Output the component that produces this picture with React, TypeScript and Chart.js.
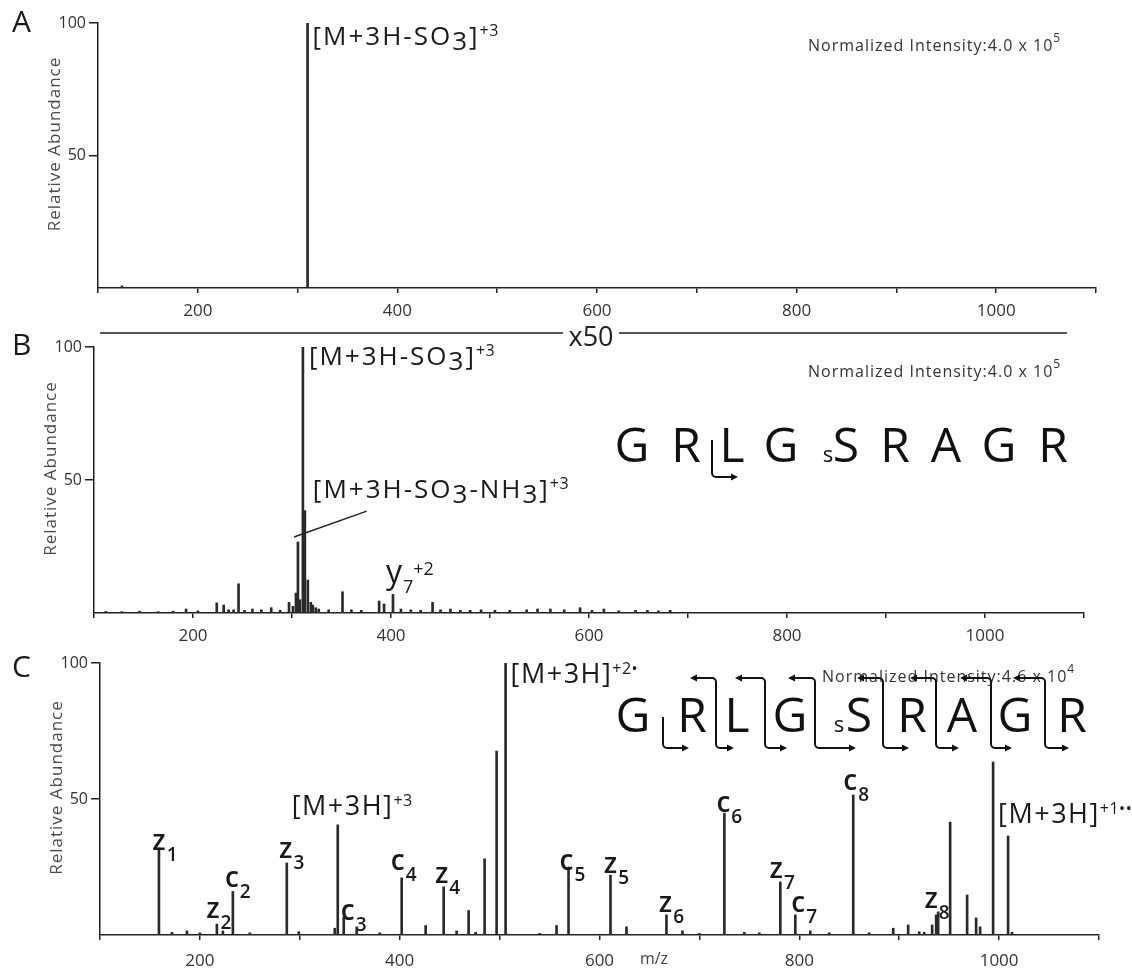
import React, { useEffect, useRef } from 'react';
import { Chart, registerables } from 'chart.js';

Chart.register(...registerables);

const FONT = '"Open Sans", "Noto Sans", sans-serif';
const INK = '#222';

// ---------- axes ----------
const X_MIN = 100;
const X_MAX = 1100;
const X_STEP = 100;
const X_LABELED = [200, 400, 600, 800, 1000];
const Y_TICKS = [50, 100];

// ---------- spectra: [m/z, relative abundance] ----------
const A_PEAKS: [number, number][] = [
  [124, 0.8], [310, 100],
];

const B_PEAKS: [number, number][] = [
  [112, 0.6], [128, 0.5], [146, 0.7], [165, 0.5], [180, 0.7], [193, 1.5], [205, 0.8],
  [224, 3.8], [231, 3], [236, 1.2], [241, 1.2], [246, 11], [252, 1], [260, 1.5],
  [269, 1.2], [279, 2], [288, 1], [297, 4], [301, 2.5], [304, 7.5], [306, 26.7],
  [308, 5], [311, 100], [313, 38.5], [316, 12.4], [319, 4], [321, 3], [324, 2],
  [327, 1.5], [337, 1.2], [351, 8], [360, 1.2], [370, 1], [388, 4.5], [393, 3.4],
  [402, 7], [410, 1.5], [420, 1.2], [430, 1], [442, 4], [450, 1.2], [460, 1.5],
  [470, 1], [480, 1], [491, 1.2], [505, 1], [520, 1], [537, 1.2], [548, 1.5],
  [561, 1.5], [575, 1.2], [591, 2], [603, 1], [615, 1.5], [630, 0.8], [647, 1],
  [659, 1], [670, 0.8], [682, 1],
];

const C_PEAKS: [number, number][] = [
  [159, 32], [172, 1], [187, 1.5], [200, 0.8], [217, 4], [223, 1.5], [233, 16],
  [250, 0.8], [287, 26.5], [299, 1.2], [335, 2.5], [338, 40.5], [344, 6.6], [357, 3],
  [380, 0.8], [402, 21], [426, 3.5], [444, 17.7], [457, 1.5], [469, 9], [476, 1],
  [485, 28], [497, 67.6], [506, 100], [540, 0.6], [557, 3.5], [569, 25], [611, 22],
  [627, 3], [667, 7.4], [683, 1.5], [700, 0.6], [725, 44.8], [745, 1], [760, 0.8],
  [781, 19.5], [796, 7.4], [811, 1.5], [830, 0.8], [854, 51.5], [870, 0.8], [894, 2.5],
  [909, 3.7], [920, 1.2], [925, 1], [933, 3.7], [937, 7.4], [939, 8.5], [951, 41.5],
  [968, 14.7], [977, 6.3], [981, 3], [994, 63.6], [1009, 36.4], [1013, 1],
];

// ---------- text ----------
const SEQ = ['G', 'R', 'L', 'G', 'S', 'R', 'A', 'G', 'R'];
const Y_TITLE = 'Relative Abundance';
const NORM_AB = 'Normalized Intensity:4.0 x 10';
const NORM_AB_EXP = '5';
const NORM_C = 'Normalized Intensity:4.6 x 10';
const NORM_C_EXP = '4';

type Seg = { t: string; k: string };
type Sty = { size: number; dy: number; w?: number; gap?: number; ls?: number };
const STY: Record<string, Sty> = {
  ion: { size: 28, dy: 0, w: 600, gap: 1 },
  sub: { size: 19, dy: 11, w: 600 },
  mh: { size: 27, dy: 0, ls: 1.5 },
  so: { size: 26, dy: 0, ls: 2 },
  low: { size: 26, dy: 5, ls: 2 },
  sup: { size: 16, dy: -9, ls: 0.5 },
  y: { size: 32, dy: 0, gap: 1 },
  ysub: { size: 18, dy: 10 },
  ysup: { size: 18, dy: -8 },
  norm: { size: 16, dy: 0, ls: 1 },
  normsup: { size: 12, dy: -9 },
};

const ion = (l: string, n: string): Seg[] => [{ t: l, k: 'ion' }, { t: n, k: 'sub' }];
const mh = (sup: string): Seg[] => [{ t: '[M+3H]', k: 'mh' }, { t: sup, k: 'sup' }];
const SO3: Seg[] = [{ t: '[M+3H-SO', k: 'so' }, { t: '3', k: 'low' }, { t: ']', k: 'so' }, { t: '+3', k: 'sup' }];
const SO3NH3: Seg[] = [
  { t: '[M+3H-SO', k: 'so' }, { t: '3', k: 'low' }, { t: '-NH', k: 'so' }, { t: '3', k: 'low' },
  { t: ']', k: 'so' }, { t: '+3', k: 'sup' },
];
const Y7: Seg[] = [{ t: 'y', k: 'y' }, { t: '7', k: 'ysub' }, { t: '+2', k: 'ysup' }];

type Label = { mz: number; segs: Seg[]; dx: number; dy: number; align: 'l' | 'cf' };

const A_LABELS: Label[] = [{ mz: 310, segs: SO3, dx: 5, dy: 22, align: 'l' }];
const B_LABELS: Label[] = [
  { mz: 311, segs: SO3, dx: 6, dy: 18, align: 'l' },
  { mz: 313, segs: SO3NH3, dx: 8, dy: -13, align: 'l' },
  { mz: 402, segs: Y7, dx: 1, dy: -11, align: 'cf' },
];
const C_LABELS: Label[] = [
  { mz: 159, segs: ion('z', '1'), dx: 0, dy: 2, align: 'cf' },
  { mz: 217, segs: ion('z', '2'), dx: -4, dy: -6, align: 'cf' },
  { mz: 233, segs: ion('c', '2'), dx: -1, dy: -4, align: 'cf' },
  { mz: 287, segs: ion('z', '3'), dx: -1, dy: -5, align: 'cf' },
  { mz: 338, segs: mh('+3'), dx: 4, dy: -10, align: 'cf' },
  { mz: 344, segs: ion('c', '3'), dx: 4, dy: 3, align: 'cf' },
  { mz: 402, segs: ion('c', '4'), dx: -4, dy: -8, align: 'cf' },
  { mz: 444, segs: ion('z', '4'), dx: -2, dy: -4, align: 'cf' },
  { mz: 506, segs: mh('+2\u2022'), dx: 5, dy: 20, align: 'l' },
  { mz: 569, segs: ion('c', '5'), dx: -2, dy: 3, align: 'cf' },
  { mz: 611, segs: ion('z', '5'), dx: 0, dy: -2, align: 'cf' },
  { mz: 667, segs: ion('z', '6'), dx: -1, dy: -3, align: 'cf' },
  { mz: 725, segs: ion('c', '6'), dx: -1, dy: -1, align: 'cf' },
  { mz: 781, segs: ion('z', '7'), dx: -4, dy: -4, align: 'cf' },
  { mz: 796, segs: ion('c', '7'), dx: 3, dy: -3, align: 'cf' },
  { mz: 854, segs: ion('c', '8'), dx: -3, dy: -5, align: 'cf' },
  { mz: 939, segs: ion('z', '8'), dx: -7, dy: -4, align: 'cf' },
  { mz: 1009, segs: mh('+1\u2022\u2022'), dx: -10, dy: -13, align: 'l' },
];

// leader line for the NH3-loss label (data coordinates)
const B_LEADER: [number, number][] = [[302, 28.6], [375.5, 38.3]];

// ---------- layout (page pixels) ----------
const B_SEQ_X = [632, 686, 732, 781, 846, 895, 946, 999, 1053];
const C_SEQ_X = [633, 692, 737, 790, 859, 912, 962, 1015, 1072];
const C_GAP_X = [663, 716, 765, 815, 883, 936, 991, 1045];

type PanelSpec = {
  key: string;
  top: number;
  height: number;
  area: { left: number; right: number; top: number; bottom: number };
  xAxisH: number;
  xTickPad: number;
  peaks: [number, number][];
  labels: Label[];
  letterY: number;
  norm: { text: string; exp: string; x: number; y: number };
  extra?: (ctx: CanvasRenderingContext2D, chart: any) => void;
};

function setFont(ctx: CanvasRenderingContext2D, size: number, w = 400) {
  ctx.font = `${w} ${size}px ${FONT}`;
}

function spacedWidth(ctx: CanvasRenderingContext2D, t: string, ls: number) {
  if (!ls) return ctx.measureText(t).width;
  let w = 0;
  for (const ch of t) w += ctx.measureText(ch).width + ls;
  return w - ls;
}

function fillSpaced(ctx: CanvasRenderingContext2D, t: string, x: number, y: number, ls: number) {
  if (!ls) {
    ctx.fillText(t, x, y);
    return;
  }
  let cx = x;
  for (const ch of t) {
    ctx.fillText(ch, cx, y);
    cx += ctx.measureText(ch).width + ls;
  }
}

function drawRich(ctx: CanvasRenderingContext2D, x: number, y: number, segs: Seg[], align: 'l' | 'cf') {
  const parts = segs.map((s) => {
    const st = STY[s.k];
    setFont(ctx, st.size, st.w || 400);
    return { s, st, w: spacedWidth(ctx, s.t, st.ls || 0) };
  });
  let cx = align === 'cf' ? x - parts[0].w / 2 : x;
  ctx.textAlign = 'left';
  ctx.textBaseline = 'alphabetic';
  for (const p of parts) {
    setFont(ctx, p.st.size, p.st.w || 400);
    fillSpaced(ctx, p.s.t, cx, y + p.st.dy, p.st.ls || 0);
    cx += p.w + (p.st.gap || 0) + (p.st.ls || 0);
  }
}

function head(ctx: CanvasRenderingContext2D, x: number, y: number, dir: number) {
  ctx.beginPath();
  ctx.moveTo(x, y);
  ctx.lineTo(x - dir * 7, y - 3.5);
  ctx.lineTo(x - dir * 7, y + 3.5);
  ctx.closePath();
  ctx.fill();
}

function drawSequence(ctx: CanvasRenderingContext2D, xs: number[], baseline: number, sX: number) {
  ctx.fillStyle = '#111';
  ctx.textAlign = 'center';
  ctx.textBaseline = 'alphabetic';
  setFont(ctx, 48);
  SEQ.forEach((l, i) => ctx.fillText(l, xs[i], baseline));
  setFont(ctx, 22);
  ctx.fillText('s', sX, baseline);
}

function drawB(ctx: CanvasRenderingContext2D, chart: any) {
  const top = 320;
  const xs = chart.scales.x;
  const ys = chart.scales.y;
  // leader line
  ctx.strokeStyle = INK;
  ctx.lineWidth = 1.5;
  ctx.beginPath();
  ctx.moveTo(xs.getPixelForValue(B_LEADER[0][0]), ys.getPixelForValue(B_LEADER[0][1]));
  ctx.lineTo(xs.getPixelForValue(B_LEADER[1][0]), ys.getPixelForValue(B_LEADER[1][1]));
  ctx.stroke();

  ctx.save();
  ctx.translate(0, -top);
  // x50 bar
  ctx.beginPath();
  ctx.moveTo(100, 333);
  ctx.lineTo(563, 333);
  ctx.moveTo(619, 333);
  ctx.lineTo(1067, 333);
  ctx.stroke();
  ctx.fillStyle = INK;
  setFont(ctx, 27);
  ctx.textAlign = 'center';
  ctx.fillText('x50', 591, 346);
  // sequence
  drawSequence(ctx, B_SEQ_X, 462, 828);
  ctx.strokeStyle = '#111';
  ctx.fillStyle = '#111';
  ctx.lineWidth = 2;
  ctx.beginPath();
  ctx.moveTo(712, 440);
  ctx.arcTo(712, 477, 737, 477, 4);
  ctx.lineTo(732, 477);
  ctx.stroke();
  head(ctx, 738, 477, 1);
  ctx.restore();
}

function drawC(ctx: CanvasRenderingContext2D) {
  const top = 630;
  ctx.save();
  ctx.translate(0, -top);
  drawSequence(ctx, C_SEQ_X, 732, 839);
  ctx.strokeStyle = '#111';
  ctx.fillStyle = '#111';
  ctx.lineWidth = 2;
  const yT = 678;
  const yB = 748;
  C_GAP_X.forEach((g, i) => {
    const topTip = C_SEQ_X[i] - 2;
    const botTip = C_SEQ_X[i + 1] - 3;
    ctx.beginPath();
    if (i > 0) {
      ctx.moveTo(topTip + 5, yT);
      ctx.arcTo(g, yT, g, yB, 4);
    } else {
      ctx.moveTo(g, 717);
    }
    ctx.arcTo(g, yB, botTip, yB, 4);
    ctx.lineTo(botTip - 5, yB);
    ctx.stroke();
    head(ctx, botTip, yB, 1);
    if (i > 0) head(ctx, topTip, yT, -1);
  });
  // m/z
  ctx.fillStyle = '#444';
  setFont(ctx, 16);
  ctx.textAlign = 'center';
  ctx.fillText('m/z', 654, 964);
  ctx.restore();
}

const PANELS: PanelSpec[] = [
  {
    key: 'A', top: 0, height: 330,
    area: { left: 98, right: 1096, top: 23, bottom: 288 },
    xAxisH: 30, xTickPad: 8,
    peaks: A_PEAKS, labels: A_LABELS, letterY: 32,
    norm: { text: NORM_AB, exp: NORM_AB_EXP, x: 808, y: 51 },
  },
  {
    key: 'B', top: 320, height: 330,
    area: { left: 94, right: 1084, top: 347, bottom: 613 },
    xAxisH: 30, xTickPad: 8,
    peaks: B_PEAKS, labels: B_LABELS, letterY: 355,
    norm: { text: NORM_AB, exp: NORM_AB_EXP, x: 808, y: 377 },
    extra: drawB,
  },
  {
    key: 'C', top: 630, height: 339,
    area: { left: 100, right: 1099, top: 663, bottom: 935 },
    xAxisH: 32, xTickPad: 11,
    peaks: C_PEAKS, labels: C_LABELS, letterY: 677,
    norm: { text: NORM_C, exp: NORM_C_EXP, x: 822, y: 682 },
    extra: (ctx) => drawC(ctx),
  },
];

function decor(p: PanelSpec) {
  return {
    id: 'decor' + p.key,
    afterDatasetsDraw(chart: any) {
      const ctx: CanvasRenderingContext2D = chart.ctx;
      const xs = chart.scales.x;
      const ys = chart.scales.y;
      ctx.save();
      // peak labels
      ctx.fillStyle = '#1a1a1a';
      for (const L of p.labels) {
        const pk = p.peaks.find((q) => q[0] === L.mz);
        if (!pk) continue;
        const x = xs.getPixelForValue(pk[0]) + L.dx;
        const y = ys.getPixelForValue(pk[1]) + L.dy;
        drawRich(ctx, x, y, L.segs, L.align);
      }
      ctx.restore();

      ctx.save();
      ctx.translate(0, -p.top);
      // panel letter
      ctx.fillStyle = '#1a1a1a';
      setFont(ctx, 30);
      ctx.textAlign = 'left';
      ctx.textBaseline = 'alphabetic';
      ctx.fillText(p.key, 12, p.letterY);
      // y title
      ctx.save();
      ctx.translate(p.area.left - 43, (p.area.top + p.area.bottom) / 2 - 11);
      ctx.rotate(-Math.PI / 2);
      ctx.fillStyle = '#4a4a4a';
      setFont(ctx, 17);
      ctx.textAlign = 'left';
      ctx.textBaseline = 'middle';
      const tw = spacedWidth(ctx, Y_TITLE, 1);
      fillSpaced(ctx, Y_TITLE, -tw / 2, 0, 1);
      ctx.restore();
      // normalized intensity
      ctx.fillStyle = '#333';
      drawRich(ctx, p.norm.x, p.norm.y, [{ t: p.norm.text, k: 'norm' }, { t: p.norm.exp, k: 'normsup' }], 'l');
      ctx.restore();

      if (p.extra) {
        ctx.save();
        p.extra(ctx, chart);
        ctx.restore();
      }
    },
  };
}

function buildConfig(p: PanelSpec): any {
  const W = 1132;
  return {
    type: 'bar',
    data: {
      datasets: [
        {
          data: p.peaks.map(([x, y]) => ({ x, y })),
          backgroundColor: '#2a2a2a',
          borderWidth: 0,
          barThickness: 2,
        },
      ],
    },
    options: {
      animation: false,
      responsive: false,
      devicePixelRatio: 1,
      events: [],
      layout: {
        padding: {
          left: 0,
          right: W - p.area.right,
          top: p.area.top - p.top,
          bottom: p.top + p.height - p.area.bottom - p.xAxisH,
        },
      },
      plugins: { legend: { display: false }, tooltip: { enabled: false }, title: { display: false } },
      scales: {
        x: {
          type: 'linear',
          min: X_MIN,
          max: X_MAX,
          offset: false,
          afterFit: (s: any) => { s.height = p.xAxisH; },
          ticks: {
            stepSize: X_STEP,
            autoSkip: false,
            maxRotation: 0,
            padding: p.xTickPad,
            color: '#333',
            font: { family: FONT, size: 17 },
            callback: (v: number) => (X_LABELED.includes(v) ? String(v) : ''),
          },
          grid: { display: true, drawOnChartArea: false, drawTicks: true, tickLength: 5, color: INK, lineWidth: 1.5, offset: false },
          border: { display: true, color: INK, width: 1.5 },
        },
        y: {
          min: 0,
          max: 100,
          afterFit: (s: any) => { s.width = p.area.left; },
          afterBuildTicks: (s: any) => { s.ticks = Y_TICKS.map((v) => ({ value: v })); },
          ticks: { padding: 3, color: '#333', font: { family: FONT, size: 16 } },
          grid: { display: true, drawOnChartArea: false, drawTicks: true, tickLength: 9, color: INK, lineWidth: 1.5 },
          border: { display: true, color: INK, width: 1.5 },
        },
      },
    },
    plugins: [decor(p)],
  };
}

function Panel({ p }: { p: PanelSpec }) {
  const ref = useRef<HTMLCanvasElement>(null);
  useEffect(() => {
    const canvas = ref.current;
    if (!canvas) return;
    const chart = new Chart(canvas, buildConfig(p));
    return () => chart.destroy();
  }, [p]);
  return (
    <canvas
      ref={ref}
      width={1132}
      height={p.height}
      style={{ position: 'absolute', left: 0, top: p.top, width: 1132, height: p.height }}
    />
  );
}

export default function App() {
  return (
    <div style={{ position: 'absolute', left: 0, top: 0, width: 1132, height: 969, background: '#fff', overflow: 'hidden' }}>
      {PANELS.map((p) => (
        <Panel key={p.key} p={p} />
      ))}
    </div>
  );
}
